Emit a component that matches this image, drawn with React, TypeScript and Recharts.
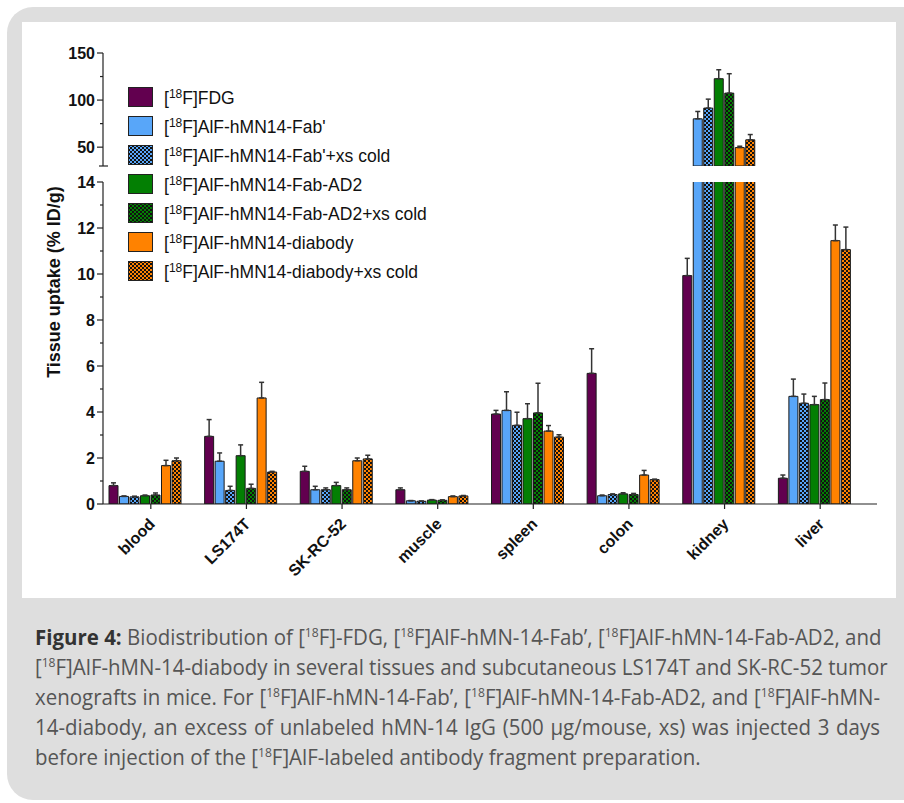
import React from "react";
import { BarChart, Bar, XAxis, YAxis, ErrorBar } from "recharts";

const tissues = ["blood", "LS174T", "SK-RC-52", "muscle", "spleen", "colon", "kidney", "liver"];

// mean and SD (% ID/g), one entry per tissue
const fdgMean = [0.8, 2.94, 1.42, 0.62, 3.91, 5.68, 9.93, 1.12];
const fdgSd = [0.12, 0.73, 0.22, 0.08, 0.16, 1.07, 0.75, 0.14];
const fabMean = [0.33, 1.86, 0.62, 0.14, 4.07, 0.36, 80.1, 4.68];
const fabSd = [0.02, 0.36, 0.15, 0.01, 0.81, 0.03, 7.8, 0.75];
const fabXsMean = [0.31, 0.59, 0.62, 0.12, 3.42, 0.41, 91.5, 4.38];
const fabXsSd = [0.03, 0.18, 0.08, 0.01, 0.57, 0.03, 9.5, 0.4];
const ad2Mean = [0.36, 2.1, 0.8, 0.17, 3.71, 0.44, 122.7, 4.32];
const ad2Sd = [0.03, 0.47, 0.14, 0.02, 0.65, 0.05, 9.5, 0.36];
const ad2XsMean = [0.39, 0.68, 0.62, 0.16, 3.96, 0.41, 107.4, 4.54];
const ad2XsSd = [0.09, 0.18, 0.08, 0.02, 1.29, 0.05, 20.6, 0.72];
const diaMean = [1.67, 4.61, 1.88, 0.32, 3.17, 1.26, 49.6, 11.45];
const diaSd = [0.23, 0.68, 0.12, 0.03, 0.24, 0.2, 1.4, 0.68];
const diaXsMean = [1.88, 1.39, 1.96, 0.35, 2.91, 1.06, 57.8, 11.06];
const diaXsSd = [0.12, 0.03, 0.16, 0.02, 0.1, 0.02, 5.6, 0.98];

const lowerTicks = [0, 1, 2, 3, 4, 5, 6, 7, 8, 9, 10, 11, 12, 13, 14];
const upperTicks = [30, 50, 75, 100, 125, 150];

const LOW_MAX = 14;
const UP_MIN = 30;

const series = [
  { key: "fdg", name: "FDG", color: "#62004f", xs: false, mean: fdgMean, sd: fdgSd },
  { key: "fab", name: "AlF-hMN14-Fab'", color: "#58a6f9", xs: false, mean: fabMean, sd: fabSd },
  { key: "fabxs", name: "AlF-hMN14-Fab'+xs cold", color: "#58a6f9", xs: true, mean: fabXsMean, sd: fabXsSd },
  { key: "ad2", name: "AlF-hMN14-Fab-AD2", color: "#037f03", xs: false, mean: ad2Mean, sd: ad2Sd },
  { key: "ad2xs", name: "AlF-hMN14-Fab-AD2+xs cold", color: "#037f03", xs: true, mean: ad2XsMean, sd: ad2XsSd },
  { key: "dia", name: "AlF-hMN14-diabody", color: "#ff8200", xs: false, mean: diaMean, sd: diaSd },
  { key: "diaxs", name: "AlF-hMN14-diabody+xs cold", color: "#ff8200", xs: true, mean: diaXsMean, sd: diaXsSd },
];

const lowerData = tissues.map((t, i) => {
  const row: any = { tissue: t };
  series.forEach((s) => {
    const v = s.mean[i];
    row[s.key] = v;
    row[s.key + "_e"] = v <= LOW_MAX ? [0, s.sd[i]] : null;
  });
  return row;
});

const upperData = tissues.map((t, i) => {
  const row: any = { tissue: t };
  series.forEach((s) => {
    const v = s.mean[i];
    row[s.key] = v > UP_MIN ? v : null;
    row[s.key + "_e"] = v > UP_MIN ? [0, s.sd[i]] : null;
  });
  return row;
});

const AXIS = "#222";
const FONT = "'Liberation Sans', Arial, sans-serif";
const TICK_SHIFT = 5;

const fillOf = (s: any) => (s.xs ? `url(#chk-${s.key})` : s.color);

function Patterns() {
  return (
    <defs>
      {series.filter((s) => s.xs).map((s) => (
        <pattern key={s.key} id={`chk-${s.key}`} width={4} height={4} patternUnits="userSpaceOnUse">
          <rect x={0} y={0} width={4} height={4} fill={s.color} />
          <rect x={0} y={0} width={2} height={2} fill="#111" />
          <rect x={2} y={2} width={2} height={2} fill="#111" />
        </pattern>
      ))}
    </defs>
  );
}

function makeYTick(major: (v: number) => boolean, breakAt?: number) {
  return (props: any) => {
    const { x, y, payload } = props;
    const v = payload.value;
    if (v === breakAt) {
      return <line x1={x - 4} x2={x + 5} y1={y} y2={y} stroke={AXIS} strokeWidth={1.2} />;
    }
    const isMajor = major(v);
    return (
      <g>
        <line x1={x} x2={x - (isMajor ? 6 : 3)} y1={y} y2={y} stroke={AXIS} strokeWidth={1.2} />
        {isMajor && (
          <text x={x - 8} y={y} dy={5.5} textAnchor="end" fontFamily={FONT} fontWeight="bold" fontSize={16} fill="#111">
            {v}
          </text>
        )}
      </g>
    );
  };
}

function XTick(props: any) {
  const { x, y, payload } = props;
  const tx = x + TICK_SHIFT;
  return (
    <g>
      <line x1={tx} x2={tx} y1={y} y2={y + 5} stroke={AXIS} strokeWidth={1.2} />
      <text
        transform={`translate(${tx + 5},${y + 21}) rotate(-45)`}
        textAnchor="end"
        fontFamily={FONT}
        fontWeight="bold"
        fontSize={16}
        fill="#111"
      >
        {payload.value}
      </text>
    </g>
  );
}

function bars() {
  return series.map((s) => (
    <Bar
      key={s.key}
      dataKey={s.key}
      fill={fillOf(s)}
      stroke="#1a1a1a"
      strokeWidth={1}
      isAnimationActive={false}
    >
      <ErrorBar dataKey={s.key + "_e"} width={2.5} stroke="#333" strokeWidth={1.5} direction="y" />
    </Bar>
  ));
}

const chartProps = {
  width: 904,
  barCategoryGap: 11,
  barGap: 1.5,
};

function Swatch({ s }: { s: any }) {
  return (
    <svg width={25} height={20} style={{ display: "block" }}>
      <defs>
        <pattern id={`lg-${s.key}`} width={4} height={4} patternUnits="userSpaceOnUse">
          <rect x={0} y={0} width={4} height={4} fill={s.color} />
          <rect x={0} y={0} width={2} height={2} fill="#111" />
          <rect x={2} y={2} width={2} height={2} fill="#111" />
        </pattern>
      </defs>
      <rect x={0.5} y={0.5} width={24} height={19} fill={s.xs ? `url(#lg-${s.key})` : s.color} stroke="#222" strokeWidth={1} />
    </svg>
  );
}

function Legend() {
  return (
    <div style={{ position: "absolute", left: 128, top: 82, fontFamily: FONT, fontSize: 17.5, color: "#111" }}>
      {series.map((s) => (
        <div key={s.key} style={{ display: "flex", alignItems: "center", height: 29 }}>
          <Swatch s={s} />
          <span style={{ marginLeft: 11, whiteSpace: "nowrap", position: "relative", top: 2 }}>
            [<sup style={{ fontSize: 12, verticalAlign: "6px", lineHeight: 0 }}>18</sup>F]{s.name}
          </span>
        </div>
      ))}
    </div>
  );
}

const captionLines = [
  "Biodistribution of [18F]-FDG, [18F]AlF-hMN-14-Fab’, [18F]AlF-hMN-14-Fab-AD2, and",
  "[18F]AlF-hMN-14-diabody in several tissues and subcutaneous LS174T and SK-RC-52 tumor",
  "xenografts in mice. For [18F]AlF-hMN-14-Fab’, [18F]AlF-hMN-14-Fab-AD2, and [18F]AlF-hMN-",
  "14-diabody, an excess of unlabeled hMN-14 IgG (500 μg/mouse, xs) was injected 3 days",
  "before injection of the [18F]AlF-labeled antibody fragment preparation.",
];

function withSup(text: string) {
  const parts = text.split("[18F]");
  const out: any[] = [];
  parts.forEach((p, i) => {
    if (i > 0) {
      out.push(
        <span key={"s" + i}>
          [<sup style={{ fontSize: 13, verticalAlign: "8px", lineHeight: 0 }}>18</sup>F]
        </span>
      );
    }
    out.push(<span key={"t" + i}>{p}</span>);
  });
  return out;
}

const CAP_SCALE = 0.93;

function Caption() {
  return (
    <div
      style={{
        position: "absolute",
        left: 35,
        top: 621,
        width: 845 / CAP_SCALE,
        transform: `scaleX(${CAP_SCALE})`,
        transformOrigin: "0 0",
        fontFamily: "'Open Sans', sans-serif",
        fontSize: 22,
        lineHeight: "30px",
        color: "#555",
      }}
    >
      {captionLines.map((line, i) => (
        <div
          key={i}
          style={{
            whiteSpace: "nowrap",
            textAlign: "justify",
            textAlignLast: i < captionLines.length - 1 ? "justify" : "left",
          }}
        >
          {i === 0 && <b style={{ color: "#333" }}>Figure 4: </b>}
          {withSup(line)}
        </div>
      ))}
    </div>
  );
}

export default function App() {
  return (
    <div style={{ position: "absolute", left: 0, top: 0, width: 904, height: 803, overflow: "hidden", background: "#fff" }}>
      <div style={{ position: "absolute", left: 7, top: 7, width: 940, height: 793, borderRadius: 26, background: "#dedede" }} />
      <div style={{ position: "absolute", left: 22, top: 22, width: 874, height: 576, background: "#fff" }} />

      <div style={{ position: "absolute", left: 0, top: 0 }}>
        <BarChart {...chartProps} height={600} data={lowerData} margin={{ top: 182, right: 27, bottom: 26, left: 43 }}>
          <Patterns />
          <XAxis
            dataKey="tissue"
            interval={0}
            height={70}
            padding={{ left: -5, right: 14 }}
            tickSize={0}
            tickMargin={0}
            tick={<XTick />}
            axisLine={{ stroke: AXIS, strokeWidth: 1.2 }}
            tickLine={false}
          />
          <YAxis
            width={60}
            domain={[0, LOW_MAX]}
            ticks={lowerTicks}
            allowDataOverflow
            interval={0}
            tickSize={0}
            tickMargin={0}
            tickLine={false}
            axisLine={{ stroke: AXIS, strokeWidth: 1.2 }}
            tick={makeYTick((v) => v % 2 === 0)}
          />
          {bars()}
        </BarChart>
      </div>

      <div style={{ position: "absolute", left: 0, top: 0 }}>
        <BarChart {...chartProps} height={175} data={upperData} margin={{ top: 53, right: 27, bottom: 9, left: 43 }}>
          <Patterns />
          <XAxis dataKey="tissue" hide padding={{ left: -5, right: 14 }} />
          <YAxis
            width={60}
            domain={[UP_MIN, 150]}
            ticks={upperTicks}
            allowDataOverflow
            interval={0}
            tickSize={0}
            tickMargin={0}
            tickLine={false}
            axisLine={{ stroke: AXIS, strokeWidth: 1.2 }}
            tick={makeYTick((v) => v % 50 === 0, UP_MIN)}
          />
          {bars()}
        </BarChart>
      </div>

      <Legend />

      <div
        style={{
          position: "absolute",
          left: 54,
          top: 282,
          transform: "translate(-50%, -50%) rotate(-90deg)",
          whiteSpace: "nowrap",
          fontFamily: FONT,
          fontWeight: "bold",
          fontSize: 18,
          color: "#111",
        }}
      >
        Tissue uptake (% ID/g)
      </div>

      <Caption />
    </div>
  );
}
